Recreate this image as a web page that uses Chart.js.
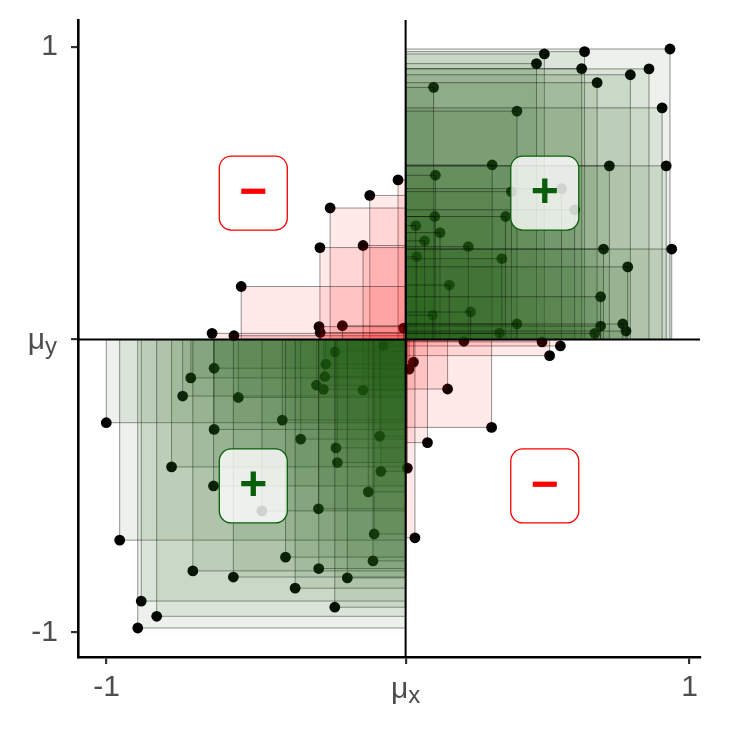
<!DOCTYPE html>
<html><head><meta charset="utf-8">
<script src="https://cdn.jsdelivr.net/npm/chart.js@4.4.0/dist/chart.umd.min.js"></script>
<style>html,body{margin:0;padding:0;background:#fff;}#wrap{width:729px;height:729px;}</style>
</head><body><div id="wrap"><canvas id="c" width="729" height="729"></canvas></div>
<script>
// ---- data ----
const meanX = 0.026;
const meanY = 0.0;
const pointsX = [
  0.502,0.640,0.933,0.475,0.630,0.861,0.797,0.683,0.122,0.408,0.906,0.323,0.725,0.920,0.128,0.389,0.561,0.606,0.126,0.369,
  0.061,0.144,0.091,0.241,0.064,0.356,0.705,0.939,0.788,0.176,0.695,0.119,0.249,0.408,0.695,0.771,0.782,0.675,0.348,
  0.000,-0.097,-0.233,-0.268,-0.120,-0.538,-0.638,-0.563,-0.271,-0.267,-0.191,0.019,
  -0.216,-0.050,-0.248,-0.251,-0.280,-0.256,-0.120,-0.631,-0.711,-0.739,-0.548,-1.001,-0.631,-0.397,-0.334,-0.213,-0.208,-0.063,-0.059,
  -0.777,-0.633,-0.467,-0.273,-0.102,-0.082,-0.955,-0.386,-0.086,-0.704,-0.565,-0.272,-0.174,-0.353,-0.881,-0.217,-0.828,-0.893,
  0.226,0.494,0.557,0.520,0.053,0.038,0.170,0.321,0.101,0.032,0.058
];
const pointsY = [
  0.975,0.983,0.992,0.942,0.925,0.924,0.904,0.877,0.861,0.780,0.791,0.596,0.593,0.593,0.561,0.505,0.515,0.443,0.420,0.420,
  0.389,0.365,0.337,0.317,0.283,0.276,0.309,0.309,0.248,0.186,0.146,0.083,0.094,0.053,0.046,0.053,0.029,0.021,0.022,
  0.545,0.492,0.449,0.314,0.321,0.181,0.021,0.013,0.044,0.024,0.047,0.039,
  -0.042,-0.021,-0.084,-0.127,-0.156,-0.170,-0.173,-0.098,-0.131,-0.193,-0.198,-0.284,-0.307,-0.275,-0.340,-0.370,-0.420,-0.330,-0.450,
  -0.435,-0.500,-0.585,-0.578,-0.520,-0.664,-0.685,-0.743,-0.756,-0.790,-0.811,-0.782,-0.814,-0.849,-0.893,-0.914,-0.945,-0.985,
  -0.006,-0.008,-0.022,-0.055,-0.077,-0.101,-0.169,-0.300,-0.352,-0.439,-0.677
];
const xTicks = [-1, meanX, 1];
const xTickLabels = ['-1', 'μ|x', '1'];
const yTicks = [-1, meanY, 1];
const yTickLabels = ['-1', 'μ|y', '1'];
const signLabelX = [0.5, -0.5, -0.5, 0.5];
const signLabelY = [0.5, 0.5, -0.5, -0.5];
const signLabelText = ['+', '−', '+', '−'];

// ---- styles ----
const GREEN = '36,96,26';
const RED = '255,0,0';
const FONT = '"Liberation Sans", Arial, sans-serif';
const TICK_FONT_SIZE = 30;
const TEXT_COLOR = '#4d4d4d';

const covPlugin = {
  id: 'cov',
  afterDatasetsDraw(chart) {
    const ctx = chart.ctx, xs = chart.scales.x, ys = chart.scales.y, a = chart.chartArea;
    ctx.save();
    ctx.beginPath(); ctx.rect(a.left, a.top, a.right - a.left, a.bottom - a.top); ctx.clip();
    const x0 = xs.getPixelForValue(meanX), y0 = ys.getPixelForValue(meanY);
    for (let i = 0; i < pointsX.length; i++) {
      const x1 = xs.getPixelForValue(pointsX[i]), y1 = ys.getPixelForValue(pointsY[i]);
      const pos = (pointsX[i] - meanX) * (pointsY[i] - meanY) > 0;
      ctx.fillStyle = 'rgba(' + (pos ? GREEN : RED) + ',0.087)';
      const l = Math.min(x0, x1), t = Math.min(y0, y1), w = Math.abs(x1 - x0), h = Math.abs(y1 - y0);
      ctx.fillRect(l, t, w, h);
      ctx.strokeStyle = 'rgba(0,0,0,0.42)';
      ctx.lineWidth = 1;
      ctx.strokeRect(l, t, w, h);
    }
    // mean lines
    ctx.strokeStyle = '#000'; ctx.lineWidth = 2;
    ctx.beginPath(); ctx.moveTo(x0, a.top); ctx.lineTo(x0, a.bottom); ctx.stroke();
    ctx.beginPath(); ctx.moveTo(a.left, y0); ctx.lineTo(a.right, y0); ctx.stroke();
    // sign labels
    for (let k = 0; k < signLabelText.length; k++) {
      const cx = xs.getPixelForValue(signLabelX[k]), cy = ys.getPixelForValue(signLabelY[k]);
      const plus = signLabelText[k] === '+';
      const col = plus ? '#0b5e0b' : '#ff0000';
      const bw = 68, bh = 74, r = 12;
      ctx.beginPath();
      ctx.roundRect(cx - bw / 2 + 1, cy - bh / 2, bw, bh, r);
      ctx.fillStyle = 'rgba(255,255,255,0.8)';
      ctx.fill();
      ctx.lineWidth = 1.3; ctx.strokeStyle = col; ctx.stroke();
      ctx.fillStyle = col;
      ctx.font = 'bold 48px ' + FONT;
      ctx.textAlign = 'center'; ctx.textBaseline = 'middle';
      ctx.fillText(signLabelText[k], cx + 1, cy + 1);
    }
    ctx.restore();
  },
  afterDraw(chart) {
    const ctx = chart.ctx, xs = chart.scales.x, ys = chart.scales.y;
    ctx.save();
    ctx.fillStyle = TEXT_COLOR;
    const drawMu = (label, cx, baseY, align) => {
      const parts = label.split('|');
      ctx.font = TICK_FONT_SIZE + 'px ' + FONT;
      const w1 = ctx.measureText(parts[0]).width;
      ctx.font = Math.round(TICK_FONT_SIZE * 0.8) + 'px ' + FONT;
      const w2 = ctx.measureText(parts[1]).width;
      const total = w1 + w2;
      const start = align === 'center' ? cx - total / 2 : cx - total;
      ctx.textAlign = 'left'; ctx.textBaseline = 'alphabetic';
      ctx.font = TICK_FONT_SIZE + 'px ' + FONT;
      ctx.fillText(parts[0], start, baseY);
      ctx.font = Math.round(TICK_FONT_SIZE * 0.8) + 'px ' + FONT;
      ctx.fillText(parts[1], start + w1, baseY + 5);
    };
    xTicks.forEach((v, i) => {
      if (xTickLabels[i].includes('|')) drawMu(xTickLabels[i], xs.getPixelForValue(v), 698, 'center');
    });
    yTicks.forEach((v, i) => {
      if (yTickLabels[i].includes('|')) drawMu(yTickLabels[i], 57, ys.getPixelForValue(v) + 9, 'right');
    });
    ctx.restore();
  }
};

new Chart(document.getElementById('c'), {
  type: 'scatter',
  data: {
    datasets: [{
      data: pointsX.map((x, i) => ({ x: x, y: pointsY[i] })),
      backgroundColor: '#000', borderWidth: 0, pointRadius: 5.4, pointHoverRadius: 5.4
    }]
  },
  options: {
    responsive: false, animation: false, devicePixelRatio: 1,
    layout: { padding: { top: 20, right: 29, left: 0, bottom: 0 } },
    plugins: { legend: { display: false }, tooltip: { enabled: false } },
    scales: {
      x: {
        type: 'linear', min: -1.098, max: 1.036,
        afterBuildTicks: s => { s.ticks = xTicks.map(v => ({ value: v })); },
        afterFit: s => { s.height = 72; s.paddingLeft = 0; s.paddingRight = 0; },
        grid: { display: true, drawOnChartArea: false, drawTicks: true, tickLength: 7, tickColor: '#333', tickWidth: 2.2, color: '#333', lineWidth: 2.2 },
        border: { display: true, color: '#000', width: 2.6 },
        ticks: { color: TEXT_COLOR, font: { family: FONT, size: TICK_FONT_SIZE }, padding: 6, maxRotation: 0, autoSkip: false,
          callback: (v, i) => xTickLabels[i].includes('|') ? '' : xTickLabels[i] }
      },
      y: {
        type: 'linear', min: -1.084, max: 1.091,
        afterBuildTicks: s => { s.ticks = yTicks.map(v => ({ value: v })); },
        afterFit: s => { s.width = 78; s.paddingTop = 0; s.paddingBottom = 0; },
        grid: { display: true, drawOnChartArea: false, drawTicks: true, tickLength: 7, tickColor: '#333', tickWidth: 2.2, color: '#333', lineWidth: 2.2 },
        border: { display: true, color: '#000', width: 2.6 },
        ticks: { color: TEXT_COLOR, font: { family: FONT, size: TICK_FONT_SIZE }, padding: 13, autoSkip: false,
          callback: (v, i) => yTickLabels[i].includes('|') ? '' : yTickLabels[i] }
      }
    }
  },
  plugins: [covPlugin]
});
</script>
</body></html>
